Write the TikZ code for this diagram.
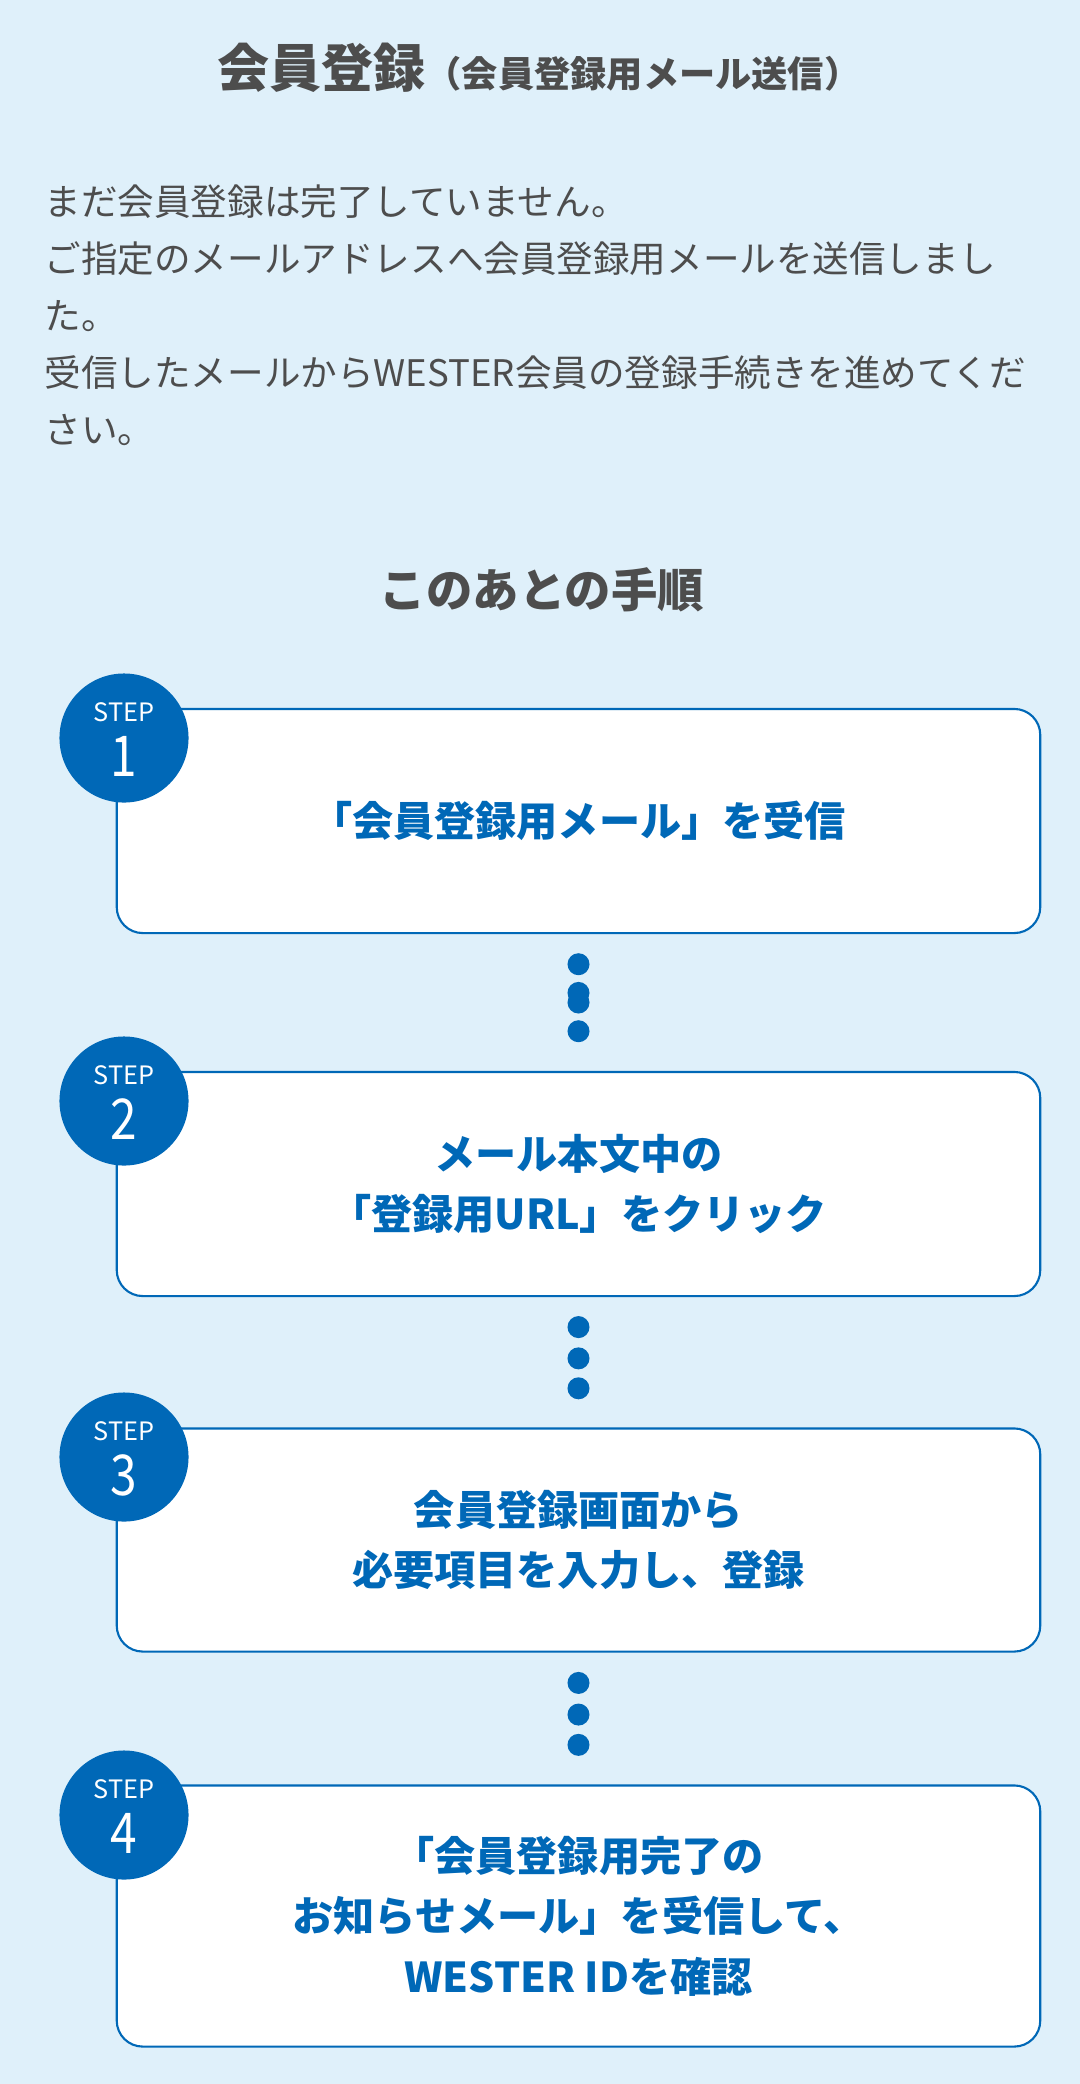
\documentclass[tikz,border=0pt]{standalone}
\usepackage{fontspec}
\setmainfont{Noto Sans CJK JP}
\usetikzlibrary{positioning,calc}
\definecolor{bgcolor}{RGB}{223,240,250}
\definecolor{stepblue}{RGB}{0,104,183}
\definecolor{textgray}{RGB}{77,77,77}
\tikzset{
    stepbox/.style={
        rectangle,
        rounded corners=7.4pt,
        minimum width=9.23cm,
        fill=white,
        draw=stepblue,
        line width=0.6pt,
        align=center,
        text=stepblue,
        font=\fontsize{11.7}{17.2}\selectfont\bfseries
    },
    stepcircle/.style={circle, fill=stepblue, minimum size=1.29cm, inner sep=0pt},
    steplabel/.style={text=white, inner sep=0pt, font=\fontsize{7.2}{8}\selectfont},
    stepnum/.style={text=white, inner sep=0pt, font=\fontsize{16}{16}\selectfont},
    stepdot/.style={circle, fill=stepblue, minimum size=0.22cm, inner sep=0pt},
    headtext/.style={text=textgray, inner sep=0pt, font=\bfseries}
}

\begin{document}
\begin{tikzpicture}[x=0.01cm, y=-0.01cm]
    \fill[bgcolor] (0,0) rectangle (1080,2084);
    \useasboundingbox (0,0) rectangle (1080,2084);

    % Title
    \node[headtext] (title) at (539,68) {{\fontsize{14.8}{16}\selectfont 会員登録}{\fontsize{10.3}{12}\selectfont （会員登録用メール送信）}};

    % Message
    \node[text=textgray, anchor=west, align=left, inner sep=0pt,
          font=\fontsize{10.4}{16.2}\selectfont] (message) at (44,315)
        {まだ会員登録は完了していません。\\
         ご指定のメールアドレスへ会員登録用メールを送信しまし\\
         た。\\
         受信したメールからWESTER会員の登録手続きを進めてくだ\\
         さい。};

    % Heading
    \node[headtext, font=\fontsize{13.2}{15}\selectfont\bfseries] (next) at (542,590) {このあとの手順};

    % Steps
    \node[stepbox, minimum height=2.24cm] (box1) at (578.5,821) {「会員登録用メール」を受信};
    \node[stepbox, minimum height=2.24cm] (box2) at (578.5,1184) {メール本文中の\\「登録用URL」をクリック};
    \node[stepbox, minimum height=2.23cm] (box3) at (578.5,1540) {会員登録画面から\\必要項目を入力し、登録};
    \node[stepbox, minimum height=2.61cm] (box4) at (578.5,1916) {「会員登録用完了の\\お知らせメール」を受信して、\\WESTER IDを確認};

    % Step circles
    \node[stepcircle] (c1) at (124,738) {};
    \node[stepcircle] (c2) at (124,1101) {};
    \node[stepcircle] (c3) at (124,1457) {};
    \node[stepcircle] (c4) at (124,1815) {};
    \node[steplabel] (s1) at ($(c1.center)+(0,-26)$) {STEP};
    \node[stepnum] (n1) at ($(c1.center)+(0,18)$) {\scalebox{0.85}[1]{1}};
    \node[steplabel] (s2) at ($(c2.center)+(0,-26)$) {STEP};
    \node[stepnum] (n2) at ($(c2.center)+(0,18)$) {\scalebox{0.85}[1]{2}};
    \node[steplabel] (s3) at ($(c3.center)+(0,-26)$) {STEP};
    \node[stepnum] (n3) at ($(c3.center)+(0,18)$) {\scalebox{0.85}[1]{3}};
    \node[steplabel] (s4) at ($(c4.center)+(0,-26)$) {STEP};
    \node[stepnum] (n4) at ($(c4.center)+(0,18)$) {\scalebox{0.85}[1]{4}};

    % Dots between steps
    \foreach \f [count=\k] in {0.22,0.43,0.50,0.71}
        \node[stepdot] (da\k) at ($(box1.south)!\f!(box2.north)$) {};
    \foreach \f [count=\k] in {0.23,0.47,0.70}
        \node[stepdot] (db\k) at ($(box2.south)!\f!(box3.north)$) {};
    \foreach \f [count=\k] in {0.23,0.47,0.70}
        \node[stepdot] (dc\k) at ($(box3.south)!\f!(box4.north)$) {};
\end{tikzpicture}
\end{document}
